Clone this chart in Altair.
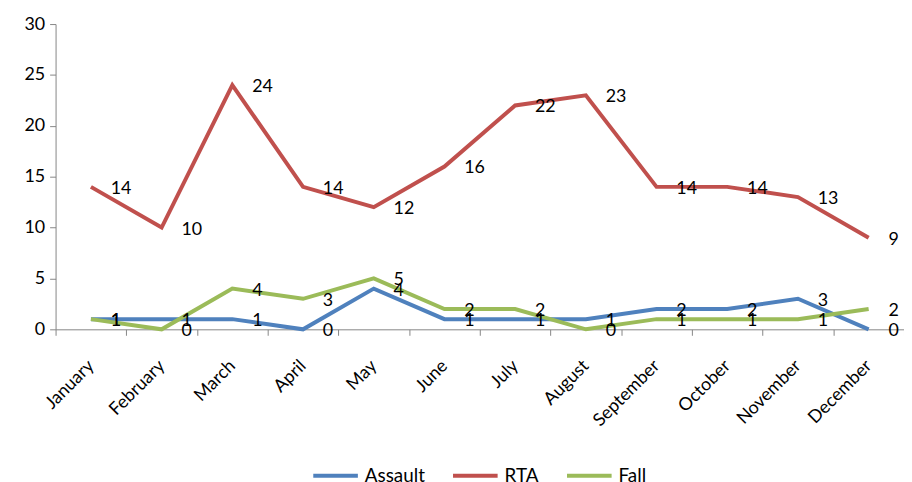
import altair as alt
import pandas as pd

months = ["January", "February", "March", "April", "May", "June", "July",
          "August", "September", "October", "November", "December"]
assault = [1, 1, 1, 0, 4, 1, 1, 1, 2, 2, 3, 0]
rta = [14, 10, 24, 14, 12, 16, 22, 23, 14, 14, 13, 9]
fall = [1, 0, 4, 3, 5, 2, 2, 0, 1, 1, 1, 2]
series_names = ["Assault", "RTA", "Fall"]
colors = ["#4F81BD", "#C0504D", "#9BBB59"]
y_ticks = [0, 5, 10, 15, 20, 25, 30]

rows = []
for name, vals in zip(series_names, [assault, rta, fall]):
    for m, v in zip(months, vals):
        rows.append({"Month": m, "Series": name, "Value": v})
df = pd.DataFrame(rows)

font = "Lato"
axis_grey = "#868686"

x = alt.X("Month:N", sort=months, title=None,
          scale=alt.Scale(paddingInner=0, paddingOuter=0),
          axis=alt.Axis(labelAngle=-45, labelAlign="right", labelBaseline="middle",
                        tickBand="extent", domainColor=axis_grey, tickColor=axis_grey,
                        tickSize=6, labelFont=font, labelFontSize=18, labelColor="black",
                        labelPadding=28, grid=False))
y = alt.Y("Value:Q", title=None,
          scale=alt.Scale(domain=[0, 30], nice=False),
          axis=alt.Axis(values=y_ticks, domainColor=axis_grey, tickColor=axis_grey,
                        tickSize=6, labelFont=font, labelFontSize=18, labelColor="black",
                        labelPadding=5, grid=False))

color = alt.Color("Series:N", sort=series_names,
                  scale=alt.Scale(domain=series_names, range=colors),
                  legend=alt.Legend(title=None, orient="none", legendX=258, legendY=431,
                                    direction="horizontal", columns=3,
                                    symbolType="stroke", symbolSize=2025,
                                    symbolStrokeWidth=4, labelFont=font,
                                    labelFontSize=19, labelColor="black",
                                    labelOffset=5, columnPadding=20))

lines = alt.Chart(df).mark_line(strokeWidth=4).encode(x=x, y=y, color=color)
labels = alt.Chart(df).mark_text(align="left", baseline="middle", dx=20, dy=2,
                                 font=font, fontSize=18, color="black").encode(
    x=x, y=y, text="Value:Q")

chart = alt.layer(lines, labels).properties(
    width=856, height=308,
    autosize=alt.AutoSizeParams(type="none"),
    padding={"left": 48, "top": 14, "right": 0, "bottom": 170},
).configure_view(stroke=None)

chart.save("out.html", embed_options={"renderer": "svg", "actions": False})
